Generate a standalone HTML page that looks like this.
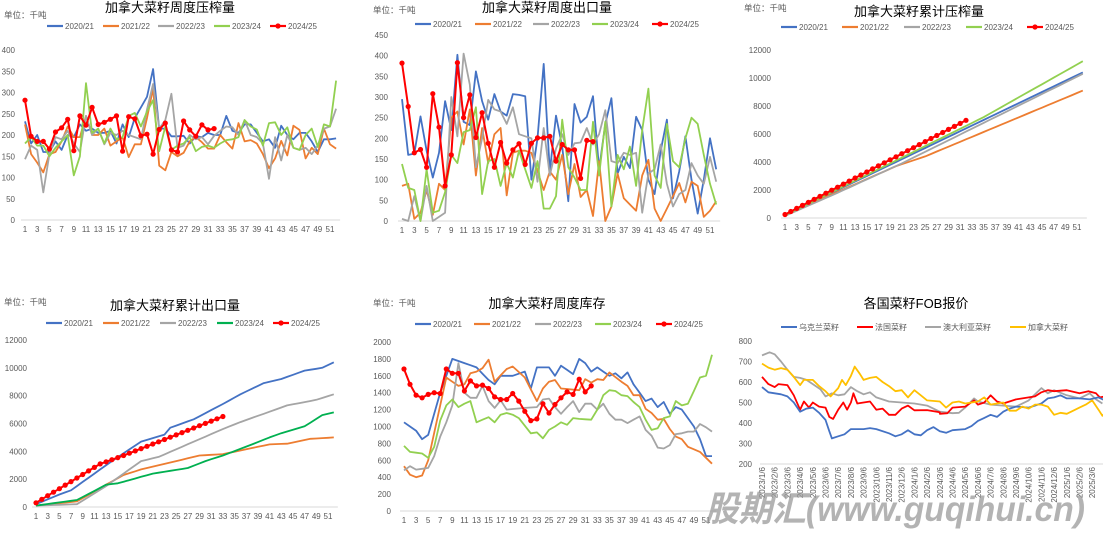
<!DOCTYPE html>
<html><head><meta charset="utf-8">
<style>
body{margin:0;background:#fff;}
svg{display:block;font-family:"Liberation Sans","Noto Sans CJK SC",sans-serif;}
</style></head>
<body>
<svg id="s" width="1103" height="533" xmlns="http://www.w3.org/2000/svg"></svg>
<script>
const S=document.getElementById('s');let h='';
const C={b:'#4472c4',o:'#ed7d31',g:'#a5a5a5',gr:'#92d050',r:'#ff0000',dg:'#00b050',y:'#ffc000'};
function T(x,y,t,sz,fill,anc,extra){h+=`<text x="${x}" y="${y}" font-size="${sz}" fill="${fill}" text-anchor="${anc||'start'}" ${extra||''}>${t}</text>`;}
function line(pts,col,w,dots){h+=`<polyline fill="none" stroke="${col}" stroke-width="${w}" stroke-linejoin="round" points="${pts.map(p=>p[0].toFixed(1)+','+p[1].toFixed(1)).join(' ')}"/>`;
 if(dots)pts.forEach(p=>h+=`<circle cx="${p[0].toFixed(1)}" cy="${p[1].toFixed(1)}" r="2.6" fill="${col}"/>`);}
function panel(o){
 const sx=(o.x51-o.x0)/50;
 T(o.ux,o.uy,'单位：千吨',8.5,'#595959');
 T(o.tx,o.ty,o.title,13,'#000','middle');
 for(let v=0;v<=o.max;v+=o.step){const y=o.y0-(o.y0-o.yTop)*v/o.max;T(o.x0-o.lo,y+3,v,8,'#595959','end');}
 h+=`<line x1="${o.x0-4}" y1="${o.y0}" x2="${o.x0+sx*51+4}" y2="${o.y0}" stroke="#d9d9d9" stroke-width="1"/>`;
 for(let w=1;w<=51;w+=2)T(o.x0+sx*(w-1),o.y0+12,w,8,'#595959','middle');
 const names=['2020/21','2021/22','2022/23','2023/24','2024/25'];
 o.cols.forEach((c,i)=>{const lx=o.legx[i];h+=`<line x1="${lx}" y1="${o.ly}" x2="${lx+16}" y2="${o.ly}" stroke="${c}" stroke-width="2.2"/>`;
  if(i==4)h+=`<circle cx="${lx+8}" cy="${o.ly}" r="2.6" fill="${c}"/>`;T(lx+18,o.ly+3,names[i],8,'#595959');});
 o.data.forEach((d,i)=>{const pts=d.map((v,k)=>[o.x0+sx*k,o.y0-(o.y0-o.yTop)*v/o.max]);line(pts,o.cols[i],i==4?2:1.8,i==4);});
}
function interp(kp,n){const r=[];for(let w=1;w<=n;w++){let i=0;while(i<kp.length-2&&kp[i+1][0]<w)i++;const[a,va]=kp[i],[b,vb]=kp[i+1];r.push(va+(vb-va)*Math.max(0,Math.min(1,(w-a)/(b-a))));}return r;}
const p1=[
[232,180,200,160,160,185,165,200,195,225,210,215,205,205,210,180,225,195,240,265,290,355,215,215,197,197,198,180,197,195,205,200,200,245,210,205,225,225,205,185,190,170,222,200,190,205,205,185,160,190,190,192],
[225,155,135,112,155,160,185,220,195,195,245,200,200,215,175,185,195,148,178,178,240,310,128,117,160,150,158,185,195,183,168,168,200,183,168,228,185,188,180,155,122,145,186,152,222,212,145,170,155,215,178,168],
[143,175,165,65,155,195,190,210,180,160,245,200,215,178,205,200,210,200,195,190,260,320,215,235,297,170,175,200,190,195,178,198,210,220,218,200,235,200,195,180,97,195,140,200,170,165,170,155,175,215,220,262],
[180,195,175,175,150,170,185,200,105,150,322,205,215,180,215,190,195,245,252,220,255,282,162,220,165,175,180,195,162,172,175,170,180,188,190,195,235,220,213,175,228,230,200,218,170,165,200,215,172,225,220,328],
[282,197,185,185,167,207,217,237,163,245,223,265,225,230,237,245,162,243,238,198,202,155,213,228,165,160,233,212,197,224,212,215]];
panel({x0:25,x51:330,lo:10,y0:220,yTop:50,max:400,step:50,title:'加拿大菜籽周度压榨量',tx:170,ty:12,ux:4,uy:18,ly:26,legx:[47,103,158,214,270],cols:[C.b,C.o,C.g,C.gr,C.r],data:p1});
const p2=[
[295,160,163,253,170,105,165,290,220,402,240,232,362,290,245,307,265,255,307,305,302,100,200,380,120,255,180,48,283,238,252,302,125,235,297,115,155,128,252,220,100,65,170,245,55,120,205,100,18,100,200,125],
[85,90,5,20,75,15,90,75,250,265,185,270,110,225,140,210,225,62,165,170,170,165,120,75,120,100,160,65,138,58,75,12,145,0,35,115,55,40,25,110,148,30,0,30,60,92,45,95,85,10,25,48],
[5,0,60,0,85,0,10,20,300,205,405,330,130,200,293,270,265,235,275,210,205,200,95,225,110,175,210,160,188,190,225,185,210,268,145,140,165,160,165,20,115,125,185,90,35,65,75,140,110,90,155,95],
[138,80,75,0,125,20,25,70,160,140,215,220,275,65,145,150,85,140,105,170,125,80,145,30,30,60,245,130,105,75,75,240,110,240,35,160,125,180,85,220,320,110,80,235,145,130,200,250,235,160,90,40],
[382,277,165,173,130,308,227,85,160,383,250,305,202,262,188,130,190,140,172,187,137,188,201,201,205,145,185,172,172,103,195,192]];
panel({x0:402,x51:710,lo:14,y0:221,yTop:35,max:450,step:50,title:'加拿大菜籽周度出口量',tx:547,ty:12,ux:373,uy:13,ly:24,legx:[415,475,533,592,652],cols:[C.b,C.o,C.g,C.gr,C.r],data:p2});
const lin=(a,b,n)=>Array.from({length:n},(_,k)=>a+(b-a)*k/51);
const p3=[lin(200,10400,52),interp([[1,200],[20,3700],[25,4400],[52,9100]],52),interp([[1,150],[10,1800],[21,3900],[52,10300]],52),interp([[1,200],[20,4100],[35,7200],[52,11200]],52),lin(250,10400,52).slice(0,32).map((v,k)=>v+k*18)];
panel({x0:785,x51:1077,lo:14,y0:218,yTop:50,max:12000,step:2000,title:'加拿大菜籽累计压榨量',tx:919,ty:16,ux:744,uy:11,ly:27,legx:[781,842,904,966,1027],cols:[C.b,C.o,C.g,C.gr,C.r],data:p3});
const p4=[interp([[1,200],[5,900],[7,1200],[10,2100],[14,3300],[19,4700],[23,5200],[24,5700],[28,6300],[33,7400],[36,8100],[40,8900],[43,9200],[47,9800],[50,10000],[52,10400]],52),interp([[1,100],[8,400],[13,1600],[16,2300],[19,2700],[25,3300],[29,3700],[33,3800],[41,4500],[44,4550],[48,4900],[52,5000]],52),interp([[1,100],[8,200],[13,1500],[19,3300],[22,3600],[33,5600],[36,6100],[40,6700],[44,7300],[49,7700],[52,8100]],52),interp([[1,100],[8,500],[13,1600],[15,1700],[21,2400],[27,2800],[30,3300],[33,3700],[38,4500],[41,5000],[43,5300],[47,5800],[50,6600],[52,6800]],52),interp([[1,300],[12,3100],[16,3700],[33,6500]],33)];
panel({x0:36,x51:328,lo:9,y0:507,yTop:340,max:12000,step:2000,title:'加拿大菜籽累计出口量',tx:175,ty:310,ux:4,uy:305,ly:323,legx:[46,103,160,217,273],cols:[C.b,C.o,C.g,C.dg,C.r],data:p4});
const p5=[interp([[1,1050],[3,950],[4,850],[5,900],[7,1400],[9,1800],[11,1750],[13,1700],[15,1550],[16,1500],[17,1600],[19,1600],[21,1650],[22,1450],[23,1700],[25,1700],[26,1600],[27,1720],[29,1620],[30,1800],[31,1750],[32,1650],[33,1700],[35,1600],[36,1630],[37,1570],[38,1640],[39,1500],[41,1300],[42,1330],[43,1230],[44,1290],[45,1150],[46,1230],[47,1200],[49,1000],[50,850],[51,650],[52,650]],52),
interp([[1,530],[2,430],[3,400],[4,420],[5,600],[7,1250],[8,1580],[10,1480],[11,1500],[12,1630],[13,1650],[14,1690],[15,1790],[16,1530],[18,1680],[19,1710],[21,1580],[23,1300],[24,1450],[25,1530],[26,1550],[27,1450],[30,1430],[31,1560],[32,1520],[33,1560],[34,1550],[35,1640],[37,1530],[38,1480],[39,1370],[40,1370],[41,1210],[42,1160],[43,1080],[44,1090],[45,970],[46,880],[47,850],[48,760],[50,700],[52,560]],52),
interp([[1,480],[2,530],[3,490],[4,500],[5,510],[6,650],[7,880],[8,1050],[9,1250],[10,1750],[11,1400],[12,1340],[13,1340],[14,1480],[15,1300],[16,1220],[17,1310],[18,1200],[21,1220],[23,1230],[24,1320],[25,1330],[26,1230],[27,1150],[28,1230],[29,1300],[30,1170],[31,1270],[32,1270],[33,1200],[34,1270],[35,1150],[36,1080],[37,1080],[38,1040],[39,1080],[40,1120],[41,960],[42,890],[43,750],[44,740],[45,780],[46,910],[47,920],[48,940],[49,940],[50,1030],[51,990],[52,940]],52),
interp([[1,770],[2,700],[3,690],[4,680],[5,630],[6,760],[7,1070],[8,1250],[9,1320],[10,1230],[11,1270],[12,1300],[13,1050],[14,1080],[15,1110],[16,1050],[17,1140],[18,1160],[19,1140],[20,1100],[21,1010],[22,920],[23,930],[24,860],[25,960],[26,1000],[27,1050],[28,1020],[29,1100],[30,1090],[32,1080],[33,1200],[34,1370],[35,1430],[36,1420],[37,1370],[38,1360],[39,1290],[40,1230],[41,1080],[42,960],[43,980],[44,1100],[45,1120],[46,1300],[47,1250],[48,1270],[49,1420],[50,1580],[51,1600],[52,1850]],52),
[1680,1500,1370,1340,1380,1400,1390,1680,1630,1630,1420,1540,1480,1490,1450,1350,1320,1320,1390,1300,1180,1070,1090,1270,1160,1260,1340,1410,1380,1560,1410,1480]];
panel({x0:404,x51:706,lo:13,y0:511,yTop:342,max:2000,step:200,title:'加拿大菜籽周度库存',tx:547,ty:308,ux:373,uy:306,ly:324,legx:[415,474,535,595,656],cols:[C.b,C.o,C.g,C.gr,C.r],data:p5});
(function(){
 const x0=762,st=12.7,y200=464,y800=341,sy=(y200-y800)/600;
 const Y=v=>y200-(v-200)*sy;
 T(916,308,'各国菜籽FOB报价',13,'#000','middle');
 [['乌克兰菜籽',C.b,781],['法国菜籽',C.r,857],['澳大利亚菜籽',C.g,925],['加拿大菜籽',C.y,1010]].forEach(l=>{h+=`<line x1="${l[2]}" y1="327" x2="${l[2]+16}" y2="327" stroke="${l[1]}" stroke-width="2"/>`;T(l[2]+18,330,l[0],8,'#595959');});
 for(let v=200;v<=800;v+=100)T(752,Y(v)+3,v,8,'#595959','end');
 h+=`<line x1="760" y1="${y200}" x2="1103" y2="${y200}" stroke="#d9d9d9"/>`;
 const months=[];for(let y=2023;y<=2025;y++)for(let m=1;m<=12;m++){if(y==2025&&m>3)break;months.push(y+'/'+m+'/6');}
 months.forEach((t,i)=>{const x=x0+i*st+3;T(x,467,t,8,'#595959','end',`transform="rotate(-90 ${x} 467)"`);});
 const ser=[
 [C.g,[[0,730],[0.6,745],[1,735],[1.5,700],[2,660],[2.5,625],[3,620],[3.5,610],[4,590],[4.6,565],[5,530],[5.5,545],[6,535],[6.5,540],[7,575],[7.5,555],[8,540],[8.5,550],[9,525],[10,505],[11,500],[12,495],[13,485],[14,455],[15,448],[15.5,450],[16,475],[16.7,520],[17,505],[18,490],[19,485],[20,480],[21,510],[22,570],[22.5,545],[23,560],[24,535],[25,520],[25.8,545],[26.3,515],[26.8,495]]],
 [C.r,[[0,625],[0.5,590],[1,575],[1.3,590],[2,585],[2.5,535],[3,465],[3.3,505],[3.7,475],[4,500],[4.5,480],[5,475],[5.3,430],[5.6,420],[6,465],[6.4,500],[6.7,465],[7,500],[7.2,545],[7.5,495],[8,500],[8.5,505],[9,465],[9.5,470],[10,440],[10.5,440],[11,470],[11.5,485],[12,462],[13,463],[14,452],[14,445],[14.6,448],[15,475],[16,480],[16.7,510],[17,490],[17.5,500],[18,535],[18.5,505],[19,495],[20,515],[21,525],[21.5,530],[22,550],[22.5,560],[23,555],[24,560],[25,545],[25.7,555],[26.3,545],[26.6,525],[27,530]]],
 [C.b,[[0,575],[0.5,550],[1,545],[1.5,540],[2,530],[2.5,500],[3,455],[3.5,470],[4,475],[4.5,450],[5,415],[5.3,360],[5.5,325],[6,335],[6.5,345],[7,370],[8,370],[8.5,375],[9,370],[10,350],[10.5,335],[11,345],[11.5,365],[12,345],[12.5,340],[13,365],[13.5,380],[14,360],[14.5,352],[15,365],[16,370],[16.5,385],[17,410],[17.5,425],[18,440],[18.5,430],[19,455],[19.5,470],[20,480],[21,475],[22,495],[22.5,520],[23,525],[23.5,535],[24,520],[25,520],[25.8,515],[26.5,525],[27,510]]],
 [C.y,[[0,690],[0.5,670],[1,660],[1.5,668],[2,660],[2.5,625],[3,585],[3.3,610],[4,610],[4.5,580],[5,555],[5.4,530],[6,570],[6.3,610],[6.6,585],[7,630],[7.3,675],[7.7,640],[8,610],[8.5,620],[9,625],[9.5,600],[10,580],[10.5,555],[11,560],[11.5,525],[12,560],[12.5,535],[13,510],[14,505],[14.5,475],[15,500],[15.5,505],[16,495],[17,505],[17.5,525],[18,490],[18.5,495],[19,500],[19.5,460],[20,460],[20.5,480],[21,470],[21.5,490],[22,490],[22.5,480],[23,440],[23.5,450],[24,445],[24.5,460],[25,475],[25.5,490],[26,510],[26.5,465],[26.8,435],[27,450]]]];
 ser.forEach(s=>{line(s[1].map(p=>[x0+p[0]*st,Y(p[1])]),s[0],1.8,false);});
})();
h+=`<text x="705" y="521" font-size="35" font-weight="bold" font-style="italic" fill="#9a9a9a" fill-opacity="0.75" textLength="380" lengthAdjust="spacingAndGlyphs">股期汇(www.guqihui.cn)</text>`;
S.innerHTML=h;
</script>
</body></html>
